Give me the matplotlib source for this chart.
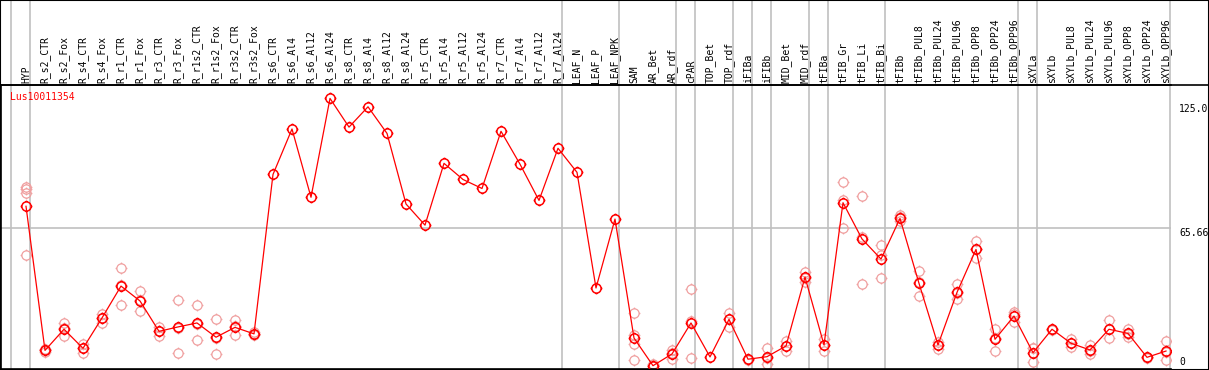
import numpy as np
import matplotlib
matplotlib.use('Agg')
import matplotlib.pyplot as plt
from matplotlib.path import Path
from matplotlib.patches import Rectangle

# 样本名称
samples = ['HYP', 'R_s2_CTR', 'R_s2_Fox', 'R_s4_CTR', 'R_s4_Fox', 'R_r1_CTR', 'R_r1_Fox',
           'R_r3_CTR', 'R_r3_Fox', 'R_r1s2_CTR', 'R_r1s2_Fox', 'R_r3s2_CTR', 'R_r3s2_Fox',
           'R_s6_CTR', 'R_s6_Al4', 'R_s6_Al12', 'R_s6_Al24', 'R_s8_CTR', 'R_s8_Al4',
           'R_s8_Al12', 'R_s8_Al24', 'R_r5_CTR', 'R_r5_Al4', 'R_r5_Al12', 'R_r5_Al24',
           'R_r7_CTR', 'R_r7_Al4', 'R_r7_Al12', 'R_r7_Al24', 'LEAF_N', 'LEAF_P', 'LEAF_NPK',
           'SAM', 'AR_Bet', 'AR_rdf', 'cPAR', 'TOP_Bet', 'TOP_rdf', 'iFIBa', 'iFIBb',
           'MID_Bet', 'MID_rdf', 'tFIBa', 'tFIB_Gr', 'tFIB_Li', 'tFIB_Bi', 'tFIBb',
           'tFIBb_PUL8', 'tFIBb_PUL24', 'tFIBb_PUL96', 'tFIBb_OPP8', 'tFIBb_OPP24',
           'tFIBb_OPP96', 'sXYLa', 'sXYLb', 'sXYLb_PUL8', 'sXYLb_PUL24', 'sXYLb_PUL96',
           'sXYLb_OPP8', 'sXYLb_OPP24', 'sXYLb_OPP96']

# 平均表达量
means = [76.2, 7.4, 17.5, 8.4, 22.9, 38.1, 31.0, 16.5, 18.6, 20.5,
         13.7, 18.4, 15.3, 91.4, 113.1, 80.5, 127.7, 114.0, 123.7, 111.0,
         77.3, 67.2, 96.7, 89.0, 84.7, 112.0, 96.3, 79.0, 103.9, 92.4,
         37.2, 70.1, 13.3, 0.1, 5.7, 20.5, 4.3, 22.2, 3.2, 4.4,
         9.5, 42.4, 10.0, 77.9, 60.6, 51.0, 70.4, 39.4, 10.0, 35.1,
         55.6, 12.7, 23.8, 6.3, 17.5, 10.8, 7.6, 17.5, 15.5, 4.1, 7.1]

# 重复样本
reps = [[85.3, 84.5, 82.7, 52.8], [6.8, 7.5, 8.0], [20.5, 14.1, 17.9], [10.5, 6.2, 8.5],
        [24.9, 20.6, 23.0], [46.7, 28.9, 38.8], [35.7, 26.0, 31.3], [18.4, 14.4, 16.7],
        [31.3, 6.2, 18.3], [29.1, 12.2, 20.2], [22.2, 5.7, 13.2], [21.7, 14.6, 18.9],
        [16.2, 14.6, 15.1], [], [], [], [], [], [], [], [], [], [], [], [], [], [], [], [],
        [], [], [],
        [25.4, 14.9, 10.3, 2.7], [0.0, 1.0, 0.2], [7.6, 3.2, 6.3], [36.6, 3.6, 21.3],
        [], [25.4, 18.7, 22.5], [3.5, 3.0], [8.4, 0.8, 4.0],
        [11.9, 7.1, 9.5], [44.8, 40.2, 42.2], [12.7, 7.1, 10.2], [87.9, 79.1, 65.6],
        [80.9, 61.7, 38.9], [57.5, 52.9, 41.8], [72.0, 71.0, 69.4], [45.1, 33.2, 40.0],
        [11.6, 8.1, 10.0], [38.9, 31.8, 34.6], [59.6, 51.6, 55.6], [17.5, 7.3, 13.3],
        [25.9, 20.8, 24.7], [8.4, 2.0, 8.5], [17.2, 17.8], [12.8, 8.9, 10.7],
        [9.8, 5.7, 7.3], [21.7, 13.3, 17.5], [17.5, 13.7, 15.3], [4.3, 3.8],
        [11.9, 2.7, 6.7]]

# 分组分隔线位置（在该样本之后）
separators = [-1, 0, 28, 31, 34, 35, 37, 38, 39, 41, 42, 45, 52, 53, 60]

# 右侧刻度
ylabels = ['125.0', '65.66', '0']
gene = 'Lus10011354'

W, H = 1209, 370
fig = plt.figure(figsize=(W / 100, H / 100), dpi=100)

# 绘图区域 (像素)
left_px, right_px, top_px, bot_px = 1, 1171, 85, 369
ax = fig.add_axes([left_px / W, (H - bot_px) / H,
                   (right_px - left_px) / W, (bot_px - top_px) / H])

x = np.arange(len(samples))
ax.set_xlim((left_px - 26) / 19, (right_px - 26) / 19)
ax.set_ylim(-1.48, 134.1)

# 带小刺的圆形标记
circ = Path.unit_circle()
ticks = [Path([[c * 1.0, s * 1.0], [c * 1.28, s * 1.28]], [Path.MOVETO, Path.LINETO])
         for c, s in [(1, 0), (0, 1), (-1, 0), (0, -1)]]
marker = Path.make_compound_path(circ, *ticks)

grey = '#c0c0c0'
ax.axhline(65.66, color=grey, lw=1.2, zorder=1)
hdr = (bot_px - 0) / (bot_px - top_px)
for s in separators:
    ax.axvline(s + 0.225, ymin=0, ymax=hdr, color=grey, lw=1.2, clip_on=False, zorder=1)

# 重复点
for i, r in enumerate(reps):
    if r:
        ax.plot([i] * len(r), r, linestyle='none', marker=marker, ms=8.5,
                mfc='none', mec='#f0a0a0', mew=0.9, zorder=2)

# 平均值折线
ax.plot(x, means, color='red', lw=0.9, marker=marker, ms=8.5,
        mfc='none', mec='red', mew=1.1, zorder=3)

ax.xaxis.tick_top()
ax.set_xticks(x)
ax.set_xticklabels(samples, rotation=90, fontsize=7, family='DejaVu Sans Mono')
ax.tick_params(axis='x', length=0, pad=1.5)
ax.set_yticks([])
for sp in ['left', 'bottom', 'top']:
    ax.spines[sp].set_color('black')
    ax.spines[sp].set_linewidth(1.2)
ax.spines['right'].set_visible(False)

ax.text(0.008, 0.975, gene, transform=ax.transAxes, color='red', fontsize=7,
        family='DejaVu Sans Mono', va='top', ha='left')

tr = ax.get_yaxis_transform()
xr = 1 + 8 / (right_px - left_px)
ax.text(xr, 125.0, ylabels[0], transform=tr, fontsize=7, family='DejaVu Sans Mono',
        va='top', ha='left', clip_on=False)
ax.text(xr, 65.66, ylabels[1], transform=tr, fontsize=7, family='DejaVu Sans Mono',
        va='top', ha='left', clip_on=False)
ax.text(xr, -0.5, ylabels[2], transform=tr, fontsize=7, family='DejaVu Sans Mono',
        va='bottom', ha='left', clip_on=False)

# 外框和表头底线
fig.add_artist(Rectangle((0, 0), 1, 1, transform=fig.transFigure, fill=False,
                         edgecolor='black', lw=1.5))
fig.add_artist(plt.Line2D([0, 1], [(H - top_px) / H] * 2, transform=fig.transFigure,
                          color='black', lw=1.2))

fig.savefig('out.png', dpi=100)
